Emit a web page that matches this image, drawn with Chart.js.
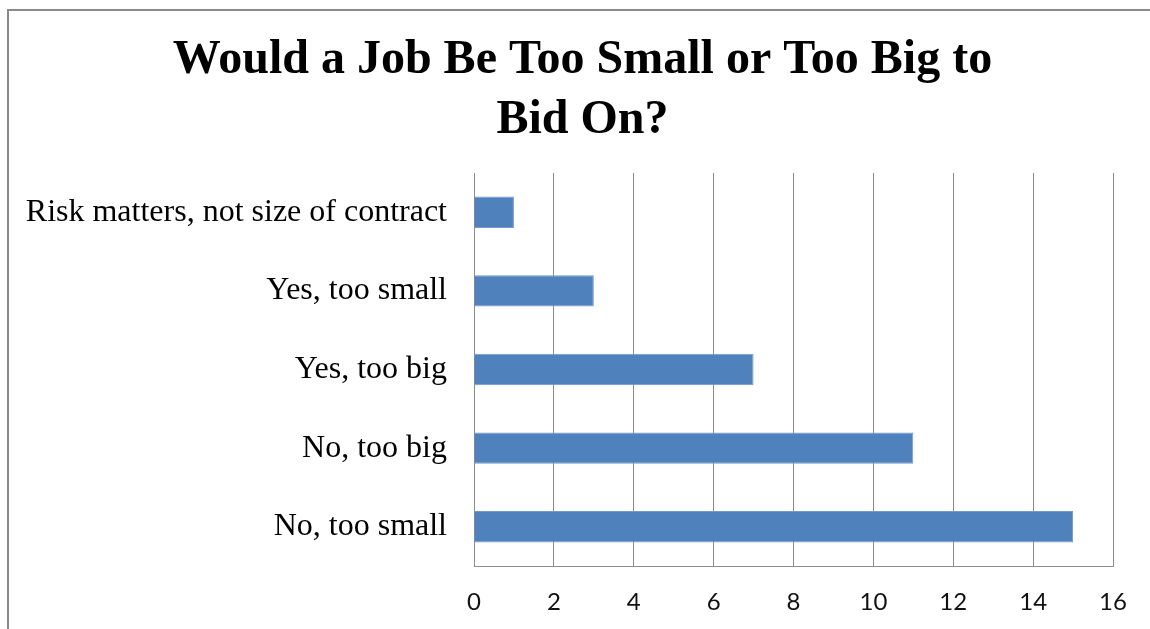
<!DOCTYPE html>
<html>
<head>
<meta charset="utf-8">
<script src="https://cdn.jsdelivr.net/npm/chart.js@4/dist/chart.umd.min.js"></script>
<style>
  html, body { margin: 0; padding: 0; background: #fff; overflow: hidden; }
  #wrap { position: relative; width: 1150px; height: 629px; }
  #frame {
    position: absolute; left: 7px; top: 9px; width: 2000px; height: 2000px;
    border-left: 2px solid #8a8a8a; border-top: 2px solid #8a8a8a;
    pointer-events: none;
  }
</style>
</head>
<body>
<div id="wrap">
  <canvas id="bidChart" width="1150" height="629"></canvas>
  <div id="frame"></div>
</div>
<script>
// survey answers, listed top to bottom as they appear
var answers = [
  'Risk matters, not size of contract',
  'Yes, too small',
  'Yes, too big',
  'No, too big',
  'No, too small'
];
var counts = [1, 3, 7, 11, 15];
var titleLines = ['Would a Job Be Too Small or Too Big to', 'Bid On?'];
var axisMin = 0;
var axisMax = 16;
var axisStep = 2;

document.addEventListener("DOMContentLoaded", function() {
  var ctx = document.getElementById('bidChart').getContext('2d');

  // nudge the title box so it centres over the frame, not the canvas minus right padding
  var titleShift = {
    id: 'titleShift',
    afterLayout: function(chart) {
      if (chart.titleBlock) chart.titleBlock.left = 52;
    }
  };

  var bidChart = new Chart(ctx, {
    type: 'bar',
    data: {
      labels: answers,
      datasets: [{
        label: 'Responses',
        data: counts,
        backgroundColor: '#4f81bd',
        borderColor: '#7399c9',
        borderWidth: 1,
        categoryPercentage: 1.0,
        barPercentage: 0.4
      }]
    },
    options: {
      indexAxis: 'y',
      responsive: false,
      animation: false,
      layout: { padding: { left: 0, right: 37, top: 0, bottom: 0 } },
      plugins: {
        legend: { display: false },
        tooltip: { enabled: false },
        title: {
          display: true,
          text: titleLines,
          color: '#000',
          font: { family: '"Liberation Serif", "Times New Roman", serif', size: 48, weight: 'bold', lineHeight: 1.25 },
          padding: { top: 31, bottom: 22 }
        }
      },
      scales: {
        x: {
          min: axisMin,
          max: axisMax,
          ticks: {
            stepSize: axisStep,
            color: '#111',
            padding: 22,
            font: { family: 'Lato, "Open Sans", sans-serif', size: 24 }
          },
          grid: { color: '#8c8c8c', lineWidth: 1, drawTicks: false },
          border: { color: '#8c8c8c', width: 1 },
          afterFit: function(scale) { scale.height = 63; }
        },
        y: {
          ticks: {
            color: '#000',
            padding: 27,
            font: { family: '"Liberation Serif", "Times New Roman", serif', size: 32 }
          },
          grid: { display: false, drawTicks: false },
          border: { color: '#8c8c8c', width: 1 },
          afterFit: function(scale) { scale.width = 474; }
        }
      }
    },
    plugins: [titleShift]
  });
});
</script>
</body>
</html>
